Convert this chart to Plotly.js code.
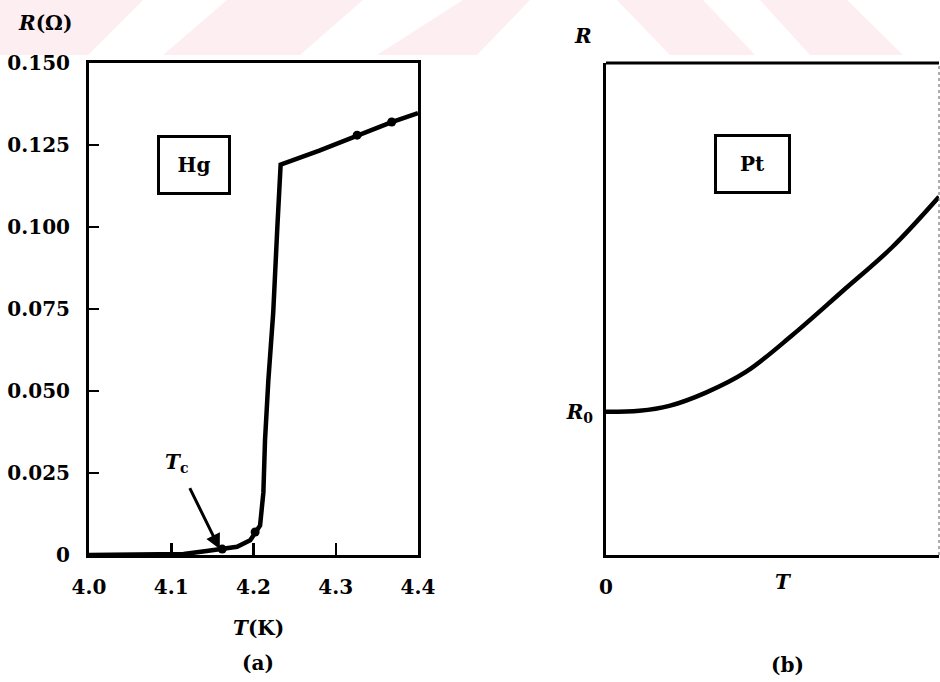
<!DOCTYPE html>
<html>
<head>
<meta charset="utf-8">
<script src="https://cdn.plot.ly/plotly-3.0.1.min.js"></script>
<style>html,body{margin:0;padding:0;background:#fff;}#chart{width:940px;height:682px;}</style>
</head>
<body>
<div id="chart"></div>
<script>
// ---- Panel (a): Hg ----
const hgT = [4.0, 4.1, 4.115, 4.143, 4.162, 4.18, 4.196, 4.202, 4.208, 4.212, 4.214, 4.218, 4.224, 4.229, 4.233, 4.28, 4.326, 4.368, 4.4];
const hgR = [0, 0, 0.0003, 0.0012, 0.0018, 0.0025, 0.0045, 0.007, 0.009, 0.019, 0.035, 0.053, 0.074, 0.100, 0.119, 0.1233, 0.128, 0.132, 0.1347];
const hgDotT = [4.162, 4.202, 4.326, 4.368];
const hgDotR = [0.0018, 0.007, 0.128, 0.132];
const hgXTicks = [4.0, 4.1, 4.2, 4.3, 4.4];
const hgXTickText = ['4.0', '4.1', '4.2', '4.3', '4.4'];
const hgYTicks = [0, 0.025, 0.05, 0.075, 0.1, 0.125, 0.15];
const hgYTickText = ['0', '0.025', '0.050', '0.075', '0.100', '0.125', '0.150'];
const tcPoint = [4.159, 0.0018];

// ---- Panel (b): Pt ----
const ptT = [0, 0.1, 0.19, 0.3, 0.42, 0.56, 0.71, 0.86, 1.0];
const ptR = [0.291, 0.293, 0.303, 0.330, 0.372, 0.447, 0.536, 0.626, 0.728];
const ptR0 = 0.291;

// watermark stripes (pixel polygons in the top band)
const wmStripes = [
  [[0,0],[143,0],[88,55],[0,55]],
  [[227,0],[363,0],[300,55],[163,55]],
  [[463,0],[530,0],[477,55],[377,55]],
  [[617,0],[703,0],[755,55],[670,55]],
  [[760,0],[847,0],[903,55],[810,55]]
];

const W = 940, H = 682;
const px = v => v / W;
const py = v => 1 - v / H;
const FONT = 'DejaVu Serif';
const bold = (size) => ({family: FONT, size: size, color: '#000', weight: 'bold'});

const shapes = wmStripes.map(poly => ({
  type: 'path', xref: 'paper', yref: 'paper', layer: 'below',
  path: 'M' + poly.map(p => px(p[0]).toFixed(5) + ',' + py(p[1]).toFixed(5)).join('L') + 'Z',
  fillcolor: '#fdeef1', line: {width: 0}
}));
// top and faint right border of panel (b)
shapes.push({type: 'line', xref: 'x2 domain', yref: 'y2 domain', x0: 0, x1: 1, y0: 1, y1: 1, line: {color: '#000', width: 3}});
shapes.push({type: 'line', xref: 'x2 domain', yref: 'y2 domain', x0: 1, x1: 1, y0: 0, y1: 1, line: {color: '#777', width: 1.2, dash: 'dot'}});

const traces = [
  {x: hgT, y: hgR, xaxis: 'x', yaxis: 'y', mode: 'lines', line: {color: '#000', width: 4.5}, hoverinfo: 'skip', cliponaxis: false},
  {x: hgDotT, y: hgDotR, xaxis: 'x', yaxis: 'y', mode: 'markers', marker: {color: '#000', size: 9}, hoverinfo: 'skip'},
  {x: ptT, y: ptR, xaxis: 'x2', yaxis: 'y2', mode: 'lines', line: {color: '#000', width: 4.5, shape: 'spline', smoothing: 1}, hoverinfo: 'skip'}
];

const axCommon = {showgrid: false, zeroline: false, showline: true, linecolor: '#000', linewidth: 3, fixedrange: true};

const layout = {
  width: W, height: H,
  margin: {l: 0, r: 0, t: 0, b: 0},
  paper_bgcolor: '#fff', plot_bgcolor: 'rgba(0,0,0,0)',
  showlegend: false,
  xaxis: Object.assign({}, axCommon, {
    domain: [px(89), px(418)], anchor: 'y', range: [4.0, 4.4],
    tickmode: 'array', tickvals: hgXTicks, ticktext: hgXTickText,
    ticks: 'inside', ticklen: 12, tickwidth: 2.5, tickcolor: '#000', mirror: true,
    tickfont: bold(20), ticklabelstandoff: 12
  }),
  yaxis: Object.assign({}, axCommon, {
    domain: [py(555), py(63)], anchor: 'x', range: [0, 0.15],
    tickmode: 'array', tickvals: hgYTicks, ticktext: hgYTickText,
    ticks: 'inside', ticklen: 10, tickwidth: 2.5, tickcolor: '#000', mirror: true,
    tickfont: bold(20), ticklabelstandoff: 12
  }),
  xaxis2: Object.assign({}, axCommon, {
    domain: [px(606), px(939)], anchor: 'y2', range: [0, 1],
    tickmode: 'array', tickvals: [0], ticktext: ['0'], ticks: '',
    tickfont: bold(20), ticklabelstandoff: 12
  }),
  yaxis2: Object.assign({}, axCommon, {
    domain: [py(555), py(63)], anchor: 'x2', range: [0, 1],
    tickmode: 'array', tickvals: [ptR0], ticktext: ['<i>R</i><sub>0</sub>'], ticks: '',
    tickfont: bold(20), ticklabelstandoff: 6
  }),
  shapes: shapes,
  annotations: [
    {xref: 'paper', yref: 'paper', x: px(45), y: py(23), text: '<i>R</i>(Ω)', showarrow: false, font: bold(20), xanchor: 'center', yanchor: 'middle'},
    {xref: 'paper', yref: 'paper', x: px(258), y: py(628), text: '<i>T</i>(K)', showarrow: false, font: bold(20), xanchor: 'center', yanchor: 'middle'},
    {xref: 'paper', yref: 'paper', x: px(258), y: py(663), text: '(a)', showarrow: false, font: bold(20), xanchor: 'center', yanchor: 'middle'},
    {xref: 'paper', yref: 'paper', x: px(787), y: py(665), text: '(b)', showarrow: false, font: bold(20), xanchor: 'center', yanchor: 'middle'},
    {xref: 'paper', yref: 'paper', x: px(583), y: py(36), text: '<i>R</i>', showarrow: false, font: bold(20), xanchor: 'center', yanchor: 'middle'},
    {xref: 'paper', yref: 'paper', x: px(783), y: py(582), text: '<i>T</i>', showarrow: false, font: bold(20), xanchor: 'center', yanchor: 'middle'},
    {xref: 'paper', yref: 'paper', x: px(193.5), y: py(165), text: 'Hg', showarrow: false, font: bold(20), xanchor: 'center', yanchor: 'middle',
     width: 66, height: 52, bordercolor: '#000', borderwidth: 3, bgcolor: '#fff'},
    {xref: 'paper', yref: 'paper', x: px(752), y: py(164), text: 'Pt', showarrow: false, font: bold(20), xanchor: 'center', yanchor: 'middle',
     width: 69, height: 52, bordercolor: '#000', borderwidth: 3, bgcolor: '#fff'},
    {xref: 'paper', yref: 'paper', x: px(176), y: py(463), text: '<i>T</i><sub>c</sub>', showarrow: false, font: bold(20), xanchor: 'center', yanchor: 'middle'},
    {xref: 'x', yref: 'y', x: tcPoint[0], y: tcPoint[1], text: ' ', showarrow: true, ax: -33, ay: -67,
     arrowhead: 2, arrowsize: 1, arrowwidth: 3, arrowcolor: '#000'}
  ]
};

Plotly.newPlot('chart', traces, layout, {staticPlot: true, displayModeBar: false});
</script>
</body>
</html>
